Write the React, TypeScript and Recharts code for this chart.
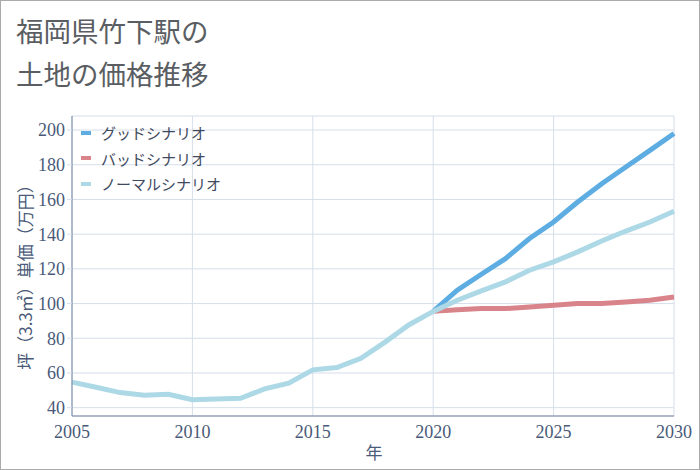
import { CartesianGrid, Label, Line, LineChart, XAxis, YAxis } from "recharts"

const years = [
  2005, 2006, 2007, 2008, 2009, 2010, 2011, 2012, 2013, 2014, 2015, 2016, 2017,
  2018, 2019, 2020, 2021, 2022, 2023, 2024, 2025, 2026, 2027, 2028, 2029, 2030,
]

// 2005-2020 are actual, after that the three scenarios
const normal = [
  54.7, 51.8, 48.7, 47.2, 47.7, 44.6, 45.0, 45.4, 50.8, 54.1, 61.8, 63.1, 68.5,
  77.8, 87.8, 95.5, 101.9, 107.3, 112.5, 119.2, 124.0, 129.8, 136.1, 141.8, 147.0, 153.2,
]
const good = [
  null, null, null, null, null, null, null, null, null, null, null, null, null,
  null, null, 95.5, 107.7, 116.9, 125.9, 137.5, 147.0, 158.5, 169.1, 178.7, 188.3, 198.0,
]
const bad = [
  null, null, null, null, null, null, null, null, null, null, null, null, null,
  null, null, 95.5, 96.5, 97.1, 97.1, 98.0, 99.0, 100.0, 100.0, 100.9, 101.9, 103.8,
]

const xTicks = [2005, 2010, 2015, 2020, 2025, 2030]
const yTicks = [40, 60, 80, 100, 120, 140, 160, 180, 200]

const series = [
  { key: "good", name: "グッドシナリオ", color: "#5DADE2" },
  { key: "bad", name: "バッドシナリオ", color: "#D9848B" },
  { key: "normal", name: "ノーマルシナリオ", color: "#ADD8E6" },
]

const data = years.map((year, i) => ({
  year,
  normal: normal[i],
  good: good[i],
  bad: bad[i],
}))

const tickColor = "#4a5a78"
const gridColor = "#d5deea"
const axisColor = "#7384a0"
const jp = '"Noto Sans CJK JP", "Noto Sans", sans-serif'
const serif = '"Liberation Serif", serif'

export default function App() {
  return (
    <div
      style={{
        position: "relative",
        width: 700,
        height: 470,
        boxSizing: "border-box",
        border: "1px solid #aaa",
        background: "#fff",
        overflow: "hidden",
      }}
    >
      <style>{`body{margin:0}`}</style>
      <div
        style={{
          position: "absolute",
          left: 15,
          top: 8,
          fontFamily: jp,
          fontSize: 27.5,
          lineHeight: "43px",
          color: "#5a5e63",
          zIndex: 2,
        }}
      >
        <div>福岡県竹下駅の</div>
        <div>土地の価格推移</div>
      </div>
      <div style={{ position: "absolute", left: -1, top: -1 }}>
        <LineChart width={700} height={470} data={data} margin={{ top: 116, right: 26, bottom: 0, left: 0 }}>
          <CartesianGrid stroke={gridColor} strokeWidth={1} />
          <XAxis
            dataKey="year"
            type="number"
            domain={[2005, 2030]}
            ticks={xTicks}
            height={54}
            tickSize={0}
            tickMargin={9}
            tickLine={false}
            stroke={axisColor}
            tick={{ fill: tickColor, fontSize: 18, fontFamily: serif }}
          >
            <Label
              content={() => (
                <text x={374} y={459} textAnchor="middle" fill={tickColor} fontSize={17} fontFamily={jp}>
                  年
                </text>
              )}
            />
          </XAxis>
          <YAxis
            type="number"
            domain={[35.2, 208.1]}
            ticks={yTicks}
            width={72}
            tickSize={5}
            tickMargin={2}
            tickLine={{ stroke: gridColor }}
            stroke={axisColor}
            allowDataOverflow
            tick={{ fill: tickColor, fontSize: 18, fontFamily: serif }}
          >
            <Label
              content={() => (
                <text
                  x={0}
                  y={0}
                  transform="translate(32 273) rotate(-90)"
                  textAnchor="middle"
                  fill={tickColor}
                  fontSize={17}
                  fontFamily={jp}
                >
                  坪（3.3㎡）単価（万円）
                </text>
              )}
            />
          </YAxis>
          <Line dataKey="bad" name="バッドシナリオ" stroke="#D9848B" strokeWidth={5} dot={false} isAnimationActive={false} />
          <Line dataKey="good" name="グッドシナリオ" stroke="#5DADE2" strokeWidth={5} dot={false} isAnimationActive={false} />
          <Line dataKey="normal" name="ノーマルシナリオ" stroke="#ADD8E6" strokeWidth={5} dot={false} isAnimationActive={false} />
        </LineChart>
      </div>
      <div
        style={{
          position: "absolute",
          left: 80,
          top: 119,
          fontFamily: jp,
          fontSize: 15,
          color: "#3f4a5e",
        }}
      >
        {series.map((s) => (
          <div key={s.key} style={{ display: "flex", alignItems: "center", height: 25.5 }}>
            <span style={{ width: 10, height: 4, background: s.color, marginRight: 10 }} />
            <span>{s.name}</span>
          </div>
        ))}
      </div>
    </div>
  )
}
